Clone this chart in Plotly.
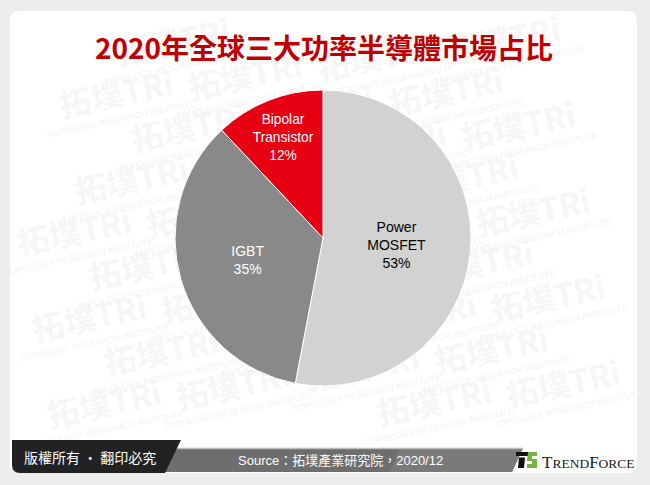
import plotly.graph_objects as go

# ---------------- data ----------------
categories = ["Power<br>MOSFET", "IGBT", "Bipolar<br>Transistor"]
shares = [53, 35, 12]
slice_colors = ["#D2D2D2", "#898989", "#E60012"]
label_colors = ["#000000", "#FFFFFF", "#FFFFFF"]

title_text = "2020年全球三大功率半導體市場占比"
copyright_text = "版權所有 · 翻印必究"
source_text = "Source：拓墣產業研究院，2020/12"

W, H = 650, 485


def px(x):
    return x / W


def py(y):
    return 1 - y / H


def path(points, close=True):
    s = "M " + " L ".join(f"{px(x):.5f},{py(y):.5f}" for x, y in points)
    return s + (" Z" if close else "")


shapes = []

# panel bounds
L, T, R, B, rr = 10, 11, 637, 473, 9

# watermark (below the pie), only units fully inside the panel
v1 = (72, 34)
v2 = (57, -52)
origin = (117, 97)
for i in range(-12, 13):
    for j in range(-12, 13):
        cx = origin[0] + i * v1[0] + j * v2[0]
        cy = origin[1] + i * v1[1] + j * v2[1]
        if L + 62 < cx < R - 62 and T + 30 < cy < 415:
            shapes.append(dict(
                type="rect", xref="paper", yref="paper", layer="below",
                x0=px(cx - 5), x1=px(cx + 5), y0=py(cy + 5), y1=py(cy - 5),
                line=dict(width=0), fillcolor="rgba(0,0,0,0)",
                label=dict(text="拓墣TRi", textangle=-12, textposition="middle center",
                           font=dict(size=32, color="#F6F6F6", family="Noto Sans CJK TC",
                                     weight="bold"))))
            sx, sy = cx + 4, cy + 21
            shapes.append(dict(
                type="rect", xref="paper", yref="paper", layer="below",
                x0=px(sx - 5), x1=px(sx + 5), y0=py(sy + 5), y1=py(sy - 5),
                line=dict(width=0), fillcolor="rgba(0,0,0,0)",
                label=dict(text="TOPOLOGY RESEARCH INSTITUTE", textangle=-12,
                           textposition="middle center",
                           font=dict(size=9, color="#F3F3F3", family="Liberation Sans"))))

# gray frame around rounded white panel (evenodd)
outer = "M 0,0 L 1,0 L 1,1 L 0,1 Z"
inner = (f"M {px(L+rr):.5f},{py(T):.5f} L {px(R-rr):.5f},{py(T):.5f} "
         f"Q {px(R):.5f},{py(T):.5f} {px(R):.5f},{py(T+rr):.5f} "
         f"L {px(R):.5f},{py(B-rr):.5f} Q {px(R):.5f},{py(B):.5f} {px(R-rr):.5f},{py(B):.5f} "
         f"L {px(L+rr):.5f},{py(B):.5f} Q {px(L):.5f},{py(B):.5f} {px(L):.5f},{py(B-rr):.5f} "
         f"L {px(L):.5f},{py(T+rr):.5f} Q {px(L):.5f},{py(T):.5f} {px(L+rr):.5f},{py(T):.5f} Z")
shapes.append(dict(type="path", xref="paper", yref="paper", layer="below",
                   path=outer + " " + inner, fillrule="evenodd",
                   fillcolor="#EDEDED", line=dict(width=0)))

# footer gray bar
shapes.append(dict(type="path", xref="paper", yref="paper", layer="below",
                   path=path([(170, 448), (523, 448), (512, 472), (160, 472)]),
                   fillcolor="#6E6E6E", line=dict(width=0)))
shapes.append(dict(type="path", xref="paper", yref="paper", layer="below",
                   path=path([(400, 448), (523, 448), (512, 472), (390, 472)]),
                   fillcolor="#7A7A7A", line=dict(width=0)))
shapes.append(dict(type="line", xref="paper", yref="paper", layer="below",
                   x0=px(175), x1=px(523), y0=py(448.5), y1=py(448.5),
                   line=dict(color="#BDBDBD", width=1.5)))
# footer black box
shapes.append(dict(type="path", xref="paper", yref="paper", layer="below",
                   path=(f"M {px(12):.5f},{py(440):.5f} L {px(181):.5f},{py(440):.5f} "
                         f"L {px(165):.5f},{py(473):.5f} L {px(20):.5f},{py(473):.5f} "
                         f"Q {px(12):.5f},{py(473):.5f} {px(12):.5f},{py(465):.5f} Z"),
                   fillcolor="#222222", line=dict(width=0)))
# TrendForce logo icon
shapes.append(dict(type="path", xref="paper", yref="paper", layer="below",
                   path=path([(516, 452), (531, 452), (530, 456), (516, 456)]),
                   fillcolor="#111111", line=dict(width=0)))
shapes.append(dict(type="path", xref="paper", yref="paper", layer="below",
                   path=path([(519, 457.5), (525, 457.5), (524, 468), (518, 468)]),
                   fillcolor="#111111", line=dict(width=0)))
shapes.append(dict(type="path", xref="paper", yref="paper", layer="below",
                   path=path([(528, 452), (537, 452), (537, 456), (532, 456), (532, 459),
                              (537, 459), (537, 468), (527, 468), (527, 464), (532, 464),
                              (532, 461), (527, 461)]),
                   fillcolor="#72B63F", line=dict(width=0)))

# ---------------- pie ----------------
cx, cy, r = 323, 238, 148
fig = go.Figure(go.Pie(
    labels=categories,
    values=shares,
    sort=False,
    direction="clockwise",
    rotation=0,
    marker=dict(colors=slice_colors, line=dict(color="#FFFFFF", width=1)),
    texttemplate="%{label}<br>%{percent:.0%}",
    textposition="inside",
    insidetextorientation="horizontal",
    insidetextfont=dict(color=label_colors, size=14, family="Liberation Sans"),
    hoverinfo="skip",
    showlegend=False,
    domain=dict(x=[px(cx - r), px(cx + r)], y=[py(cy + r), py(cy - r)]),
))

annotations = [
    dict(text=f"<b>{title_text}</b>", x=px(324), y=py(47), xref="paper", yref="paper",
         showarrow=False, xanchor="center", yanchor="middle",
         font=dict(size=28, color="#C00000", family="Noto Sans CJK TC")),
    dict(text=copyright_text, x=px(90), y=py(456.5), xref="paper", yref="paper",
         showarrow=False, xanchor="center", yanchor="middle",
         font=dict(size=14, color="#FFFFFF", family="Noto Sans CJK TC")),
    dict(text=source_text, x=px(340), y=py(460), xref="paper", yref="paper",
         showarrow=False, xanchor="center", yanchor="middle",
         font=dict(size=13, color="#FFFFFF", family="Liberation Sans, Noto Sans CJK TC")),
    dict(text=('T<span style="font-size:13.5px">REND</span>'
               'F<span style="font-size:13.5px">ORCE</span>'),
         x=px(540), y=py(462), xref="paper", yref="paper",
         showarrow=False, xanchor="left", yanchor="middle",
         font=dict(size=17, color="#1A1A1A", family="Liberation Serif")),
]

fig.update_layout(
    width=W, height=H,
    margin=dict(l=0, r=0, t=0, b=0),
    paper_bgcolor="#FFFFFF",
    plot_bgcolor="#FFFFFF",
    shapes=shapes,
    annotations=annotations,
)

fig.write_html(
    "out.html",
    config={"displayModeBar": False},
    post_script="document.body.style.margin='0';document.body.style.background='#EDEDED';",
)
